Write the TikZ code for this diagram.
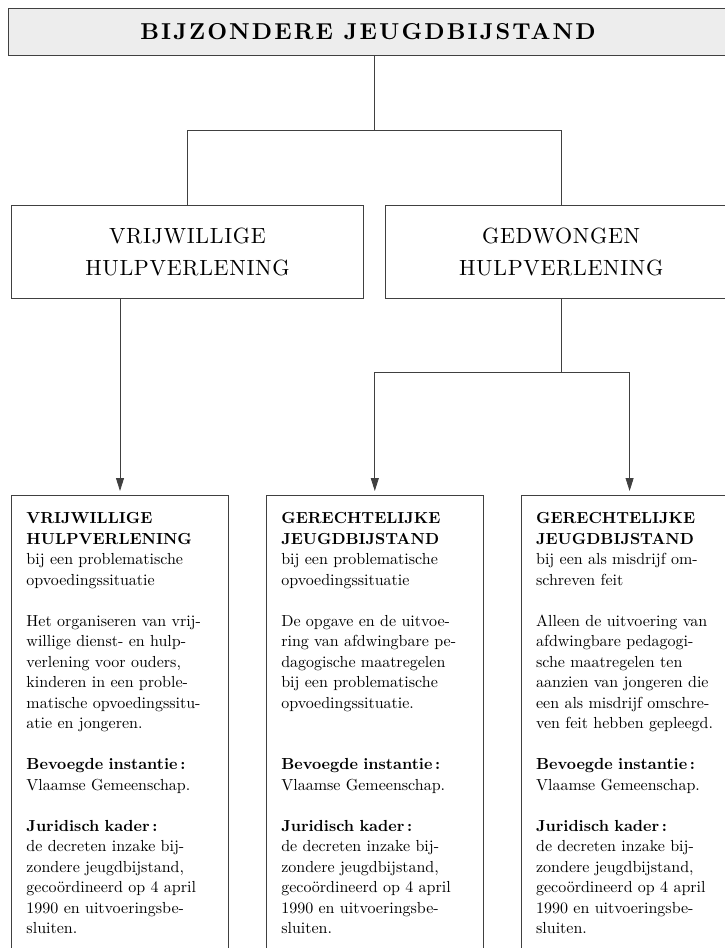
\documentclass[tikz,border=0pt]{standalone}
\usepackage{fontspec}
\setmainfont{lmroman10-regular.otf}[BoldFont=lmroman10-bold.otf]
\usetikzlibrary{positioning, arrows.meta, calc}

\begin{document}
\begin{tikzpicture}[
        x=1pt, y=1pt,
        titlebox/.style={rectangle, draw=black!75, fill=black!7, line width=0.8pt, minimum width=720pt, minimum height=47pt, font=\fontsize{23}{28}\selectfont\bfseries\addfontfeatures{LetterSpace=9}},
        kindbox/.style={rectangle, draw=black!75, line width=0.8pt, minimum width=352pt, minimum height=93pt, align=center, font=\fontsize{22}{32}\selectfont\addfontfeatures{LetterSpace=3}},
        infobox/.style={rectangle, draw=black!75, line width=0.8pt, text width=187pt, inner xsep=15pt, inner ysep=17pt, align=left, anchor=north, font=\fontsize{16}{20.5}\selectfont},
        conn/.style={draw=black!75, line width=0.8pt},
        arr/.style={conn, -{Triangle[length=13pt, width=8pt]}, shorten >=4pt},
    ]
        \clip (0,0) rectangle (725,-948);

        % Title
        \node[titlebox] (top) at (368,-32) {BIJZONDERE JEUGDBIJSTAND};

        % Kinds of help (middle row)
        \node[kindbox, anchor=north west] (vrij) at (11,-205) {VRIJWILLIGE\\HULPVERLENING};
        \node[kindbox, right=21pt of vrij] (gedw) {GEDWONGEN\\HULPVERLENING};

        % Info boxes (bottom row)
        \node[infobox] (vhv) at (120,-495) {\textbf{VRIJWILLIGE}\\\textbf{HULPVERLENING}\\bij een problematische\\opvoedingssituatie\\[20.5pt]
            Het organiseren van vrij-\\willige dienst- en hulp-\\verlening voor ouders,\\kinderen in een proble-\\matische opvoedingssitu-\\atie en jongeren.\\[20.5pt]
            \textbf{Bevoegde instantie\,:}\\Vlaamse Gemeenschap.\\[20.5pt]
            \textbf{Juridisch kader\,:}\\de decreten inzake bij-\\zondere jeugdbijstand,\\gecoördineerd op 4 april\\1990 en uitvoeringsbe-\\sluiten.};
        \node[infobox, right=37pt of vhv.north east, anchor=north west] (gjb) {\textbf{GERECHTELIJKE}\\\textbf{JEUGDBIJSTAND}\\bij een problematische\\opvoedingssituatie\\[20.5pt]
            De opgave en de uitvoe-\\ring van afdwingbare pe-\\dagogische maatregelen\\bij een problematische\\opvoedingssituatie.\\[41pt]
            \textbf{Bevoegde instantie\,:}\\Vlaamse Gemeenschap.\\[20.5pt]
            \textbf{Juridisch kader\,:}\\de decreten inzake bij-\\zondere jeugdbijstand,\\gecoördineerd op 4 april\\1990 en uitvoeringsbe-\\sluiten.};
        \node[infobox, right=37pt of gjb.north east, anchor=north west] (gjm) {\textbf{GERECHTELIJKE}\\\textbf{JEUGDBIJSTAND}\\bij een als misdrijf om-\\schreven feit\\[20.5pt]
            Alleen de uitvoering van\\afdwingbare pedagogi-\\sche maatregelen ten\\aanzien van jongeren die\\een als misdrijf omschre-\\ven feit hebben gepleegd.\\[20.5pt]
            \textbf{Bevoegde instantie\,:}\\Vlaamse Gemeenschap.\\[20.5pt]
            \textbf{Juridisch kader\,:}\\de decreten inzake bij-\\zondere jeugdbijstand,\\gecoördineerd op 4 april\\1990 en uitvoeringsbe-\\sluiten.};

        % Split under the title
        \coordinate (split) at (0,-130);
        \coordinate (mid) at ($(vrij.north)!0.5!(gedw.north)$);
        \draw[conn] (top.south -| mid) -- (mid |- split);
        \draw[conn] (vrij.north) -- (vrij.north |- split) -- (gedw.north |- split) -- (gedw.north);

        % Arrows to the info boxes
        \coordinate (split2) at (0,-372);
        \draw[arr] (vrij.south -| vhv.north) -- (vhv.north);
        \draw[conn] (gedw.south) -- (gedw.south |- split2);
        \draw[conn] (gjb.north |- split2) -- (gjm.north |- split2);
        \draw[arr] (gjb.north |- split2) -- (gjb.north);
        \draw[arr] (gjm.north |- split2) -- (gjm.north);
    \end{tikzpicture}
\end{document}
